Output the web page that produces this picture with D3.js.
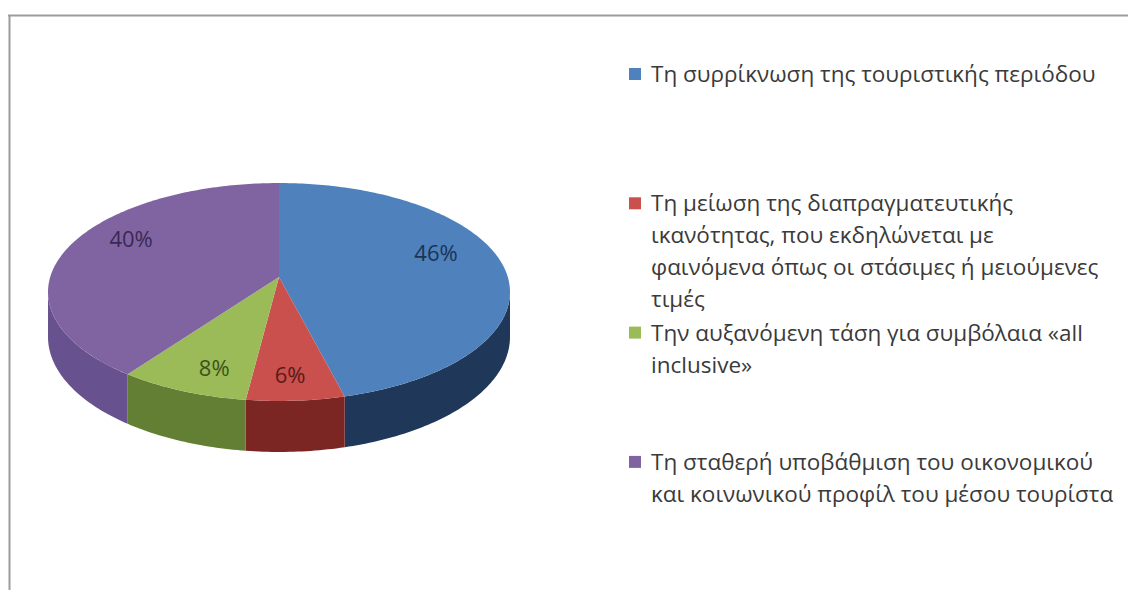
<!DOCTYPE html>
<html>
<head>
<meta charset="utf-8">
<script src="https://cdn.jsdelivr.net/npm/d3@7"></script>
<style>
  html, body { margin: 0; padding: 0; background: #ffffff; }
  svg { display: block; }
</style>
</head>
<body>
<svg id="chart" width="1128" height="590"></svg>
<script>
// Survey answers (legend text, line breaks as shown in the legend box)
const categories = [
  "Τη συρρίκνωση της τουριστικής περιόδου",
  "Τη μείωση της διαπραγματευτικής\nικανότητας, που εκδηλώνεται με\nφαινόμενα όπως οι στάσιμες ή μειούμενες\nτιμές",
  "Την αυξανόμενη τάση για συμβόλαια «all\ninclusive»",
  "Τη σταθερή υποβάθμιση του οικονομικού\nκαι κοινωνικού προφίλ του μέσου τουρίστα"
];
// Share of respondents per answer, in percent
const shares = [46, 6, 8, 40];

const topColors   = ["#4f81bd", "#c9504d", "#9bbb59", "#8064a2"];
const sideColors  = ["#1f3759", "#7c2624", "#637f33", "#67518f"];
const labelColors = ["#1c3355", "#5a1a18", "#3b5317", "#3a2952"];

const svg = d3.select("#chart");
const FONT = "'Open Sans', 'Noto Sans', sans-serif";

// Frame lines of the chart area
svg.append("line").attr("x1", 8).attr("x2", 1128).attr("y1", 15.5).attr("y2", 15.5)
  .attr("stroke", "#9c9c9c").attr("stroke-width", 2);
svg.append("line").attr("x1", 9.5).attr("x2", 9.5).attr("y1", 15).attr("y2", 590)
  .attr("stroke", "#9c9c9c").attr("stroke-width", 2);

// 3D pie: a disc seen from above with perspective.
const CX = 279, CY = 277;     // projected centre of the top face
const A = 228.8, B = 106.9;   // horizontal / vertical radius of the projected disc
const P = 0.1376;             // perspective strength (front appears larger)
const H = 44;                 // thickness of the disc

function project(theta, r, drop) {
  const w = r * Math.cos(theta);          // depth: +1 far side, -1 near side
  const s = 1 / (1 + P * w);
  return [CX + A * r * Math.sin(theta) * s, CY - B * w * s + drop * s];
}

function arcPoints(a0, a1, drop) {
  const n = Math.max(2, Math.ceil(Math.abs(a1 - a0) * 60));
  const pts = [];
  for (let k = 0; k <= n; k++) {
    const t = a0 + (a1 - a0) * k / n;
    pts.push(project(t, 1, drop));
  }
  return pts;
}

const arcs = d3.pie().sort(null).value(d => d)(shares);
const line = d3.line();

// Outer wall is visible between the two silhouette angles
const visStart = Math.acos(-P);
const visEnd = 2 * Math.PI - visStart;

const sides = svg.append("g");
arcs.forEach((a, i) => {
  const a0 = Math.max(a.startAngle, visStart);
  const a1 = Math.min(a.endAngle, visEnd);
  if (a1 <= a0) return;
  const pts = arcPoints(a0, a1, 0).concat(arcPoints(a1, a0, H));
  sides.append("path")
    .attr("d", line(pts) + "Z")
    .attr("fill", sideColors[i]);
});

const tops = svg.append("g");
arcs.forEach((a, i) => {
  const pts = [project(0, 0, 0)].concat(arcPoints(a.startAngle, a.endAngle, 0));
  tops.append("path")
    .attr("d", line(pts) + "Z")
    .attr("fill", topColors[i]);
});

// Percentage labels inside the slices, pushed away from the horizontal mid-line
const labels = svg.append("g");
arcs.forEach((a, i) => {
  const m = (a.startAngle + a.endAngle) / 2;
  const [x, y] = project(m, 0.7, 0);
  labels.append("text")
    .attr("x", x)
    .attr("y", y - 15 * Math.sign(Math.cos(m)))
    .attr("dy", "0.36em")
    .attr("text-anchor", "middle")
    .attr("font-family", FONT)
    .attr("font-size", 22)
    .attr("fill", labelColors[i])
    .text(d3.format(".0f")(a.data) + "%");
});

// Legend
const legend = svg.append("g");
const LX = 651, LY0 = 82, SLOT = 129.3, LINE = 32;
categories.forEach((c, i) => {
  const y0 = LY0 + i * SLOT;
  legend.append("rect")
    .attr("x", LX - 22).attr("y", y0 - 14)
    .attr("width", 12).attr("height", 12)
    .attr("fill", topColors[i]);
  const t = legend.append("text")
    .attr("x", LX).attr("y", y0)
    .attr("font-family", FONT)
    .attr("font-size", 22.5)
    .attr("fill", "#3a3a3a");
  c.split("\n").forEach((ln, j) => {
    t.append("tspan").attr("x", LX).attr("y", y0 + j * LINE).text(ln);
  });
});
</script>
</body>
</html>
